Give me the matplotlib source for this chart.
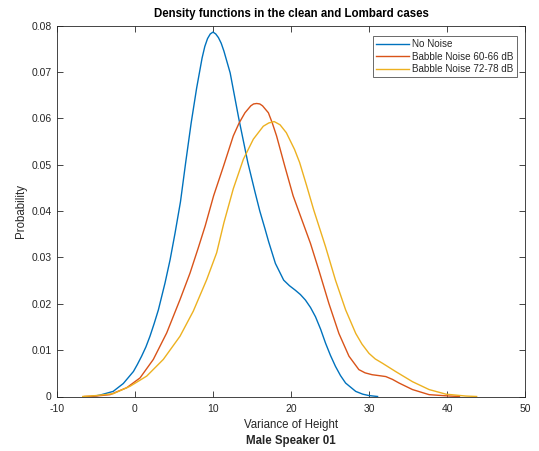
import matplotlib
matplotlib.use("Agg")
import matplotlib.pyplot as plt

plt.rcParams['font.family'] = ['Liberation Sans', 'DejaVu Sans']
plt.rcParams['axes.unicode_minus'] = False

# --- data ---
no_noise_x = [-5.5, -4.5, -2.8, -1.5, -0.2, 0.3, 0.85, 1.4, 1.92, 2.45, 3.0, 3.85, 4.5, 5.13,
              5.83, 6.5, 7.2, 7.9, 8.6, 8.95, 9.3, 9.65, 10.0, 10.35, 10.7, 11.05, 11.4, 12.2,
              13.3, 14.46, 15.4, 16.0, 16.66, 17.13, 18.0, 19.06, 19.8, 20.57, 21.2, 21.85,
              22.5, 23.14, 23.8, 24.43, 25.05, 25.7, 26.35, 27.0, 28.3, 29.2, 30.0, 31.1]
no_noise_y = [0.0, 0.0003, 0.0011, 0.0028, 0.0054, 0.0069, 0.0087, 0.0107, 0.0130, 0.0157,
              0.0187, 0.0245, 0.0295, 0.0352, 0.0420, 0.0505, 0.0590, 0.0665, 0.0730, 0.0755,
              0.0772, 0.0782, 0.0786, 0.0782, 0.0774, 0.0762, 0.0745, 0.0698, 0.0600, 0.0505,
              0.0440, 0.0400, 0.0362, 0.0334, 0.0287, 0.0251, 0.0239, 0.0229, 0.0220, 0.0208,
              0.0192, 0.0172, 0.0145, 0.0115, 0.0089, 0.0065, 0.0045, 0.0029, 0.0011, 0.0005,
              0.0002, 0.0]

babble_60_x = [-6.5, -5.0, -3.2, -1.06, 0.64, 2.35, 4.06, 5.77, 7.05, 8.1, 9.0, 10.08, 11.35,
               12.6, 13.35, 14.1, 14.85, 15.2, 15.6, 16.0, 16.35, 17.1, 17.6, 18.15, 19.2,
               20.27, 21.2, 22.5, 23.56, 24.85, 26.14, 27.43, 28.7, 29.5, 30.4, 31.3, 32.15,
               33.0, 33.86, 35.57, 37.7, 40.3, 41.6]
babble_60_y = [0.0, 0.0001, 0.0004, 0.0019, 0.0040, 0.0080, 0.0137, 0.0209, 0.0266, 0.0320,
               0.0368, 0.0433, 0.0497, 0.0562, 0.0590, 0.0612, 0.0627, 0.0631, 0.0632, 0.0631,
               0.0627, 0.0612, 0.0590, 0.0562, 0.0497, 0.0433, 0.0390, 0.0330, 0.0273, 0.0201,
               0.0136, 0.0087, 0.0058, 0.0051, 0.0047, 0.0045, 0.0043, 0.0037, 0.0029, 0.0015,
               0.0004, 0.0001, 0.0]

babble_72_x = [-6.7, -5.0, -2.8, -0.64, 1.5, 3.63, 5.77, 7.47, 9.19, 10.47, 11.4, 12.6, 13.9,
               15.17, 16.45, 17.15, 17.85, 18.6, 19.4, 20.45, 21.1, 22.0, 22.9, 24.43, 25.7,
               27.0, 28.3, 29.1, 30.0, 30.8, 31.7, 33.4, 35.57, 37.7, 39.87, 42.4, 43.8]
babble_72_y = [0.0, 0.0002, 0.0006, 0.0022, 0.0044, 0.0080, 0.0130, 0.0184, 0.0252, 0.0310,
               0.0375, 0.0448, 0.0512, 0.0555, 0.0583, 0.0590, 0.0593, 0.0586, 0.0569, 0.0533,
               0.0505, 0.0455, 0.0403, 0.0323, 0.0251, 0.0187, 0.0136, 0.0113, 0.0093, 0.0081,
               0.0072, 0.0054, 0.0032, 0.0015, 0.0005, 0.0001, 0.0]

labels = ['No Noise', 'Babble Noise 60-66 dB', 'Babble Noise 72-78 dB']
colors = ['#0072BD', '#D95319', '#EDB120']
x_ticks = [-10, 0, 10, 20, 30, 40, 50]
y_ticks = [0, 0.01, 0.02, 0.03, 0.04, 0.05, 0.06, 0.07, 0.08]
y_tick_labels = ['0', '0.01', '0.02', '0.03', '0.04', '0.05', '0.06', '0.07', '0.08']

txt = '#262626'
W, H = 539, 451
fig = plt.figure(figsize=(W / 100, H / 100), dpi=100)
ax = fig.add_axes([57 / W, (H - 396.5) / H, 468 / W, 370.9 / H])

for xs, ys, c, lab in zip([no_noise_x, babble_60_x, babble_72_x],
                          [no_noise_y, babble_60_y, babble_72_y], colors, labels):
    ax.plot(xs, ys, color=c, lw=1.0, label=lab, solid_joinstyle='round')

ax.set_xlim(-10, 50)
ax.set_ylim(0, 0.08)
ax.set_xticks(x_ticks)
ax.set_xticklabels([str(v) for v in x_ticks])
ax.set_yticks(y_ticks)
ax.set_yticklabels(y_tick_labels)
ax.tick_params(direction='in', length=4, width=0.6, colors=txt, labelsize=7.5,
               top=True, right=True)
ax.tick_params(axis='x', pad=5.5)
ax.tick_params(axis='y', pad=4)
for s in ax.spines.values():
    s.set_color(txt)
    s.set_linewidth(0.6)

ax.set_title('Density functions in the clean and Lombard cases', fontsize=8.3,
             fontweight='bold', color='black', pad=6)
ax.set_ylabel('Probability', fontsize=8.3, color=txt, labelpad=3)
ax.set_xlabel('Variance of Height', fontsize=8.3, color=txt, labelpad=3.5)
fig.text(ax.get_position().x0 + ax.get_position().width / 2, 1 - 441 / H, 'Male Speaker 01',
         ha='center', va='center', fontsize=8.3, fontweight='bold', color=txt)

leg = ax.legend(loc='upper right', bbox_to_anchor=(1 - 8 / 468, 1 - 10 / 370.9),
                borderaxespad=0, fontsize=7.1, frameon=True, fancybox=False,
                handlelength=3.3, handletextpad=0.35, labelspacing=0.25,
                borderpad=0.35)
leg.get_frame().set_edgecolor(txt)
leg.get_frame().set_linewidth(0.6)
for t in leg.get_texts():
    t.set_color(txt)

fig.savefig('out.png', dpi=100)
